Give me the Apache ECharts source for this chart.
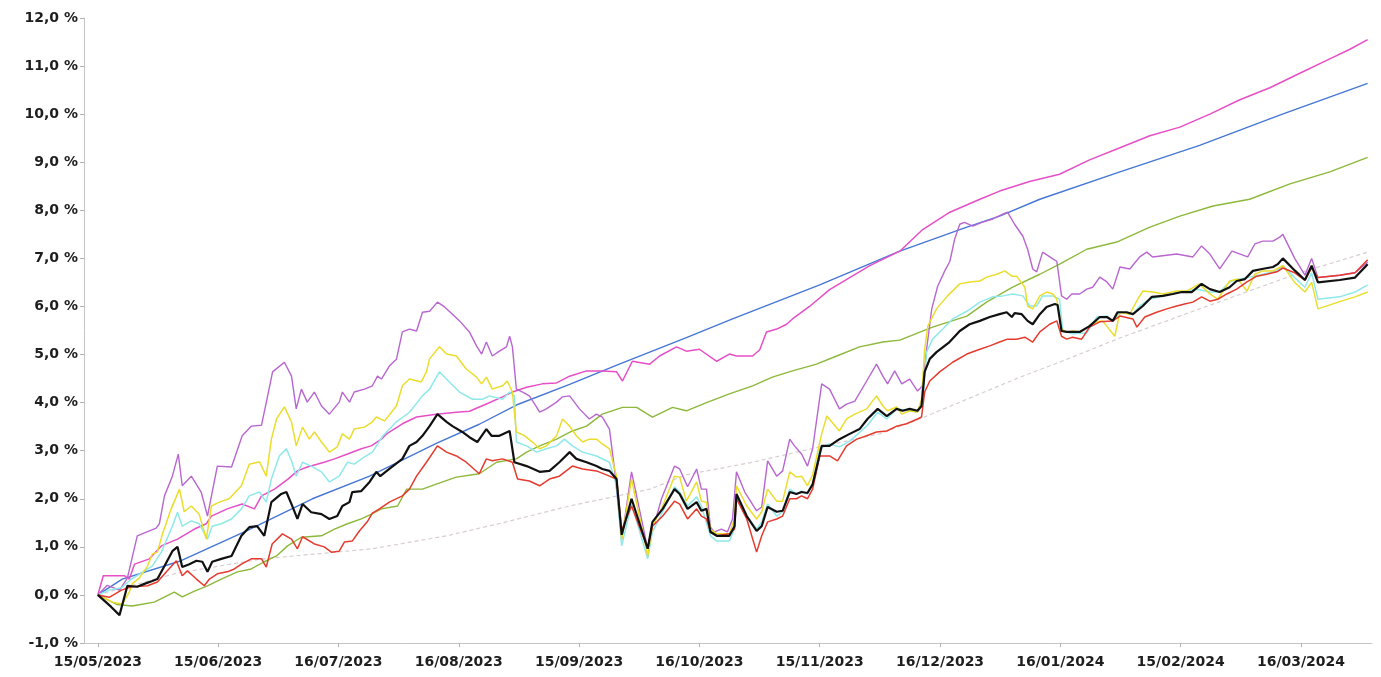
<!DOCTYPE html>
<html>
<head>
<meta charset="utf-8">
<script src="https://cdn.jsdelivr.net/npm/echarts@6/dist/echarts.min.js"></script>
<style>
  html, body { margin: 0; padding: 0; background: #ffffff; }
  #chart { width: 1381px; height: 677px; }
</style>
</head>
<body>
<div id="chart"></div>
<script>
// x values are days counted from 15/05/2023; y values are cumulative performance in %.
const xTickDays = [0, 30.5, 61, 91.5, 122, 152.5, 183, 213.5, 244, 274.5, 305];
const xTickLabels = ['15/05/2023', '15/06/2023', '16/07/2023', '16/08/2023', '15/09/2023',
  '16/10/2023', '15/11/2023', '16/12/2023', '16/01/2024', '15/02/2024', '16/03/2024'];

const gray = [[0,0],[19.9,0.45],[41.7,0.75],[69.6,0.96],[88.4,1.23],[102.6,1.5],[119.6,1.85],[139.9,2.2],[149.2,2.5],[166.0,2.76],[183.0,3.08],[198.2,3.35],[208.3,3.66],[220.3,4.07],[232.9,4.5],[245.6,4.9],[258.3,5.32],[274.3,5.8],[289.5,6.25],[304.7,6.7],[321.9,7.13]];

const green = [[0,0],[4.9,-0.2],[8.7,-0.23],[14.3,-0.15],[19.4,0.06],[21.4,-0.04],[24.5,0.08],[27.8,0.19],[31.3,0.33],[35.4,0.48],[38.9,0.54],[42.2,0.69],[45.3,0.81],[48.1,1.02],[51.6,1.2],[56.7,1.23],[60.0,1.37],[63.3,1.48],[66.8,1.58],[69.4,1.68],[71.9,1.79],[76.0,1.85],[78.3,2.2],[82.3,2.2],[87.4,2.35],[90.9,2.45],[96.7,2.52],[101.1,2.76],[106.1,2.83],[108.7,2.97],[112.0,3.1],[116.3,3.24],[120.3,3.41],[123.9,3.51],[127.9,3.76],[133.0,3.9],[136.6,3.9],[140.6,3.7],[145.7,3.9],[149.2,3.83],[154.3,4.0],[160.1,4.18],[166.0,4.35],[171.0,4.53],[176.1,4.66],[182.2,4.8],[187.3,4.97],[193.1,5.16],[199.0,5.26],[203.3,5.3],[211.6,5.57],[220.3,5.8],[225.3,6.09],[231.9,6.4],[238.8,6.67],[243.8,6.88],[250.7,7.19],[258.3,7.34],[266.7,7.65],[274.3,7.88],[282.7,8.09],[292.0,8.23],[302.2,8.55],[312.3,8.8],[321.9,9.1]];

const blue = [[0,0],[6.2,0.33],[20.7,0.7],[37.7,1.33],[54.4,2.0],[68.9,2.47],[85.8,3.15],[96.7,3.55],[106.1,3.95],[119.6,4.38],[132.2,4.8],[139.9,5.05],[149.2,5.35],[160.9,5.74],[183.0,6.45],[203.3,7.15],[220.3,7.65],[228.6,7.88],[238.8,8.23],[259.1,8.8],[279.3,9.35],[299.6,9.98],[321.9,10.64]];

const pink = [[0,0],[1.4,0.4],[6.7,0.4],[8.0,0.33],[9.3,0.64],[13.1,0.75],[16.1,1.02],[20.2,1.16],[24.5,1.37],[27.5,1.48],[28.8,1.64],[32.8,1.79],[36.6,1.89],[39.7,1.79],[41.5,2.06],[44.8,2.2],[48.2,2.41],[50.6,2.58],[53.1,2.66],[57.4,2.76],[60.0,2.83],[63.3,2.93],[66.8,3.04],[69.3,3.1],[71.9,3.24],[73.2,3.35],[77.2,3.56],[80.8,3.7],[85.8,3.76],[90.9,3.8],[94.2,3.82],[98.5,3.97],[102.6,4.12],[105.1,4.22],[108.7,4.32],[112.7,4.39],[116.3,4.41],[119.6,4.55],[123.9,4.66],[127.9,4.66],[131.5,4.64],[133.0,4.45],[135.5,4.86],[139.9,4.8],[142.4,4.97],[146.7,5.16],[149.2,5.07],[152.5,5.11],[156.9,4.86],[160.1,5.01],[161.9,4.97],[166.0,4.97],[167.8,5.1],[169.5,5.47],[172.1,5.53],[174.6,5.63],[176.1,5.74],[180.4,6.0],[185.5,6.35],[190.6,6.6],[195.7,6.85],[203.3,7.15],[209.1,7.6],[216.0,7.96],[223.6,8.23],[228.6,8.4],[236.2,8.6],[243.8,8.75],[251.4,9.05],[259.1,9.3],[266.7,9.55],[274.3,9.73],[281.9,10.0],[289.5,10.3],[297.1,10.55],[304.7,10.85],[312.3,11.15],[317.4,11.35],[321.9,11.55]];

const purple = [[0,0],[2.4,0.2],[5.5,0.1],[7.5,0.35],[10.0,1.23],[14.8,1.39],[15.6,1.48],[16.9,2.06],[18.9,2.47],[20.4,2.93],[21.4,2.27],[23.7,2.47],[26.2,2.14],[27.8,1.64],[30.3,2.68],[33.9,2.66],[36.6,3.31],[38.9,3.51],[41.5,3.53],[43.0,4.12],[44.3,4.64],[47.3,4.84],[49.1,4.55],[50.3,3.87],[51.6,4.28],[53.1,4.01],[54.9,4.22],[56.7,3.93],[58.7,3.76],[61.2,4.01],[62.0,4.22],[63.8,4.01],[65.0,4.22],[67.6,4.28],[69.6,4.35],[70.9,4.55],[71.9,4.49],[73.9,4.76],[75.7,4.9],[77.2,5.47],[79.0,5.53],[80.8,5.49],[82.3,5.88],[84.1,5.9],[86.1,6.09],[87.9,5.99],[89.9,5.84],[91.7,5.7],[94.2,5.47],[96.0,5.18],[97.3,5.01],[98.5,5.26],[100.0,4.97],[101.8,5.07],[103.6,5.16],[104.4,5.38],[105.1,5.16],[106.1,4.28],[107.7,4.22],[109.4,4.14],[111.2,3.91],[112.0,3.8],[113.7,3.87],[116.3,4.01],[117.8,4.12],[119.6,4.14],[120.8,4.01],[122.1,3.87],[124.6,3.66],[126.4,3.76],[127.9,3.7],[129.7,3.45],[131.0,2.6],[132.8,1.15],[135.3,2.56],[139.4,0.96],[140.4,1.43],[141.1,1.48],[142.9,2.0],[146.2,2.68],[147.5,2.62],[149.5,2.25],[151.8,2.62],[153.0,2.2],[154.3,2.2],[155.3,1.41],[156.3,1.31],[158.1,1.37],[159.6,1.31],[160.9,1.58],[161.9,2.56],[164.0,2.14],[167.0,1.75],[168.3,1.83],[169.8,2.79],[172.1,2.47],[173.6,2.58],[175.4,3.24],[176.6,3.1],[178.4,2.93],[179.9,2.68],[181.2,3.04],[183.5,4.39],[185.5,4.28],[188.0,3.87],[189.8,3.97],[191.9,4.03],[194.9,4.45],[197.4,4.8],[199.0,4.55],[200.2,4.39],[202.0,4.66],[203.8,4.39],[205.8,4.49],[207.8,4.24],[209.1,4.35],[210.1,5.11],[211.4,5.95],[212.9,6.42],[214.7,6.74],[216.0,6.94],[217.2,7.4],[218.5,7.71],[219.7,7.75],[221.8,7.67],[224.1,7.75],[226.9,7.82],[229.4,7.92],[230.6,7.96],[232.4,7.71],[234.5,7.46],[235.7,7.19],[237.0,6.78],[238.0,6.72],[239.5,7.13],[242.1,6.99],[243.1,6.94],[244.3,6.22],[245.6,6.15],[246.9,6.26],[248.9,6.26],[250.7,6.36],[252.2,6.4],[254.0,6.61],[255.8,6.51],[257.3,6.36],[259.1,6.82],[261.6,6.78],[264.1,7.03],[265.9,7.13],[267.4,7.03],[273.5,7.09],[277.6,7.03],[279.8,7.26],[281.9,7.09],[284.4,6.78],[287.5,7.15],[291.5,7.03],[293.3,7.3],[295.3,7.36],[297.9,7.36],[299.6,7.44],[300.4,7.5],[303.4,7.0],[306.0,6.65],[307.7,7.0],[309.3,6.6],[314.8,6.65],[318.7,6.7],[321.9,6.92]];

const cyan = [[0,0],[2.9,0.1],[6.0,0.15],[8.5,0.33],[13.8,0.6],[16.1,0.89],[18.9,1.43],[20.2,1.72],[21.4,1.43],[23.7,1.54],[25.7,1.48],[27.8,1.16],[29.0,1.43],[31.3,1.48],[33.9,1.58],[36.4,1.79],[38.4,2.06],[41.0,2.14],[42.7,1.93],[44.0,2.41],[46.0,2.89],[47.8,3.04],[49.1,2.79],[50.3,2.47],[51.9,2.76],[54.1,2.68],[56.7,2.56],[58.7,2.35],[61.2,2.47],[63.3,2.76],[65.0,2.72],[67.6,2.87],[69.6,2.97],[72.2,3.3],[75.7,3.6],[79.0,3.8],[82.3,4.14],[84.1,4.28],[86.6,4.64],[89.1,4.43],[91.7,4.22],[95.0,4.07],[97.5,4.07],[99.3,4.14],[102.6,4.07],[104.4,4.22],[105.6,4.14],[106.1,3.18],[108.7,3.1],[111.2,2.97],[113.7,3.04],[116.3,3.1],[118.3,3.24],[120.3,3.1],[122.9,2.97],[126.4,2.89],[129.7,2.76],[131.5,2.27],[132.8,1.02],[135.3,1.89],[139.4,0.75],[140.6,1.31],[143.2,1.73],[146.2,2.25],[147.5,2.14],[149.5,1.85],[151.8,2.04],[153.0,1.85],[155.3,1.23],[156.9,1.12],[160.1,1.12],[161.4,1.37],[161.9,2.06],[164.5,1.64],[167.0,1.37],[168.3,1.52],[169.8,1.89],[172.1,1.64],[173.6,1.73],[175.4,2.2],[177.1,2.1],[178.4,2.16],[179.9,2.1],[181.2,2.3],[183.0,3.04],[185.5,3.14],[188.0,3.08],[190.6,3.2],[194.9,3.51],[197.7,3.8],[200.0,3.66],[202.5,3.87],[205.8,3.83],[207.8,3.8],[209.1,4.0],[210.1,5.05],[211.6,5.32],[214.2,5.53],[216.7,5.74],[220.3,5.9],[223.6,6.09],[226.8,6.2],[229.4,6.22],[231.9,6.26],[234.5,6.22],[236.2,6.01],[238.0,6.01],[239.5,6.22],[242.1,6.22],[243.8,6.15],[244.6,5.49],[247.1,5.43],[250.7,5.45],[253.2,5.78],[255.8,5.8],[257.3,5.7],[259.1,5.88],[262.4,5.84],[264.1,6.01],[266.7,6.15],[270.0,6.22],[274.3,6.3],[278.6,6.36],[281.9,6.3],[284.4,6.3],[286.9,6.51],[289.5,6.57],[292.0,6.61],[295.3,6.67],[298.9,6.74],[300.4,6.85],[303.4,6.6],[306.0,6.4],[307.7,6.7],[309.3,6.15],[314.8,6.2],[318.7,6.3],[321.9,6.45]];

const yellow = [[0,0],[3.7,-0.15],[6.2,-0.19],[8.0,0.06],[8.7,0.23],[10.5,0.35],[12.6,0.6],[13.8,0.85],[15.1,0.89],[16.4,1.27],[18.6,1.79],[20.7,2.2],[21.9,1.73],[23.7,1.85],[25.7,1.68],[27.5,1.16],[28.8,1.85],[30.8,1.93],[33.3,2.0],[36.4,2.27],[38.4,2.72],[41.0,2.77],[42.7,2.47],[44.0,3.24],[45.3,3.66],[47.3,3.91],[49.1,3.6],[50.3,3.1],[51.9,3.49],[53.6,3.24],[54.9,3.39],[56.7,3.18],[58.7,2.97],[60.7,3.08],[62.0,3.35],[63.8,3.24],[65.0,3.45],[67.6,3.49],[69.6,3.6],[70.6,3.7],[72.7,3.62],[75.7,3.93],[77.2,4.35],[79.0,4.49],[82.0,4.43],[83.3,4.64],[84.1,4.91],[86.6,5.16],[88.4,5.01],[90.9,4.97],[93.4,4.7],[96.0,4.53],[97.3,4.39],[98.5,4.53],[100.0,4.28],[102.6,4.35],[103.8,4.45],[105.1,4.22],[106.1,3.39],[108.2,3.31],[110.2,3.18],[112.0,3.04],[113.7,3.1],[116.3,3.31],[117.8,3.66],[119.6,3.51],[121.3,3.31],[122.9,3.18],[124.6,3.24],[126.4,3.24],[127.9,3.14],[129.7,3.04],[131.5,2.47],[132.8,1.16],[135.3,2.41],[139.4,0.81],[140.6,1.43],[143.2,1.85],[146.2,2.47],[147.5,2.45],[149.2,1.95],[151.8,2.35],[153.0,1.95],[154.3,1.93],[155.3,1.37],[156.9,1.27],[160.1,1.27],[161.4,1.58],[161.9,2.27],[164.5,1.85],[167.0,1.58],[168.3,1.73],[169.8,2.2],[172.1,1.95],[173.6,1.95],[175.4,2.56],[177.1,2.45],[178.4,2.47],[179.9,2.27],[181.2,2.5],[183.5,3.35],[184.8,3.72],[188.0,3.41],[189.8,3.66],[191.9,3.76],[194.9,3.87],[197.4,4.14],[199.0,3.93],[200.2,3.83],[202.5,3.91],[203.8,3.76],[205.8,3.83],[207.8,3.8],[208.8,4.07],[209.6,5.11],[210.4,5.59],[212.6,5.95],[215.4,6.22],[218.5,6.47],[221.0,6.51],[223.6,6.53],[225.3,6.61],[227.9,6.67],[229.9,6.74],[231.7,6.63],[232.9,6.63],[235.0,6.4],[235.7,6.01],[237.0,5.95],[238.8,6.22],[240.5,6.3],[242.1,6.26],[243.1,6.15],[244.3,5.53],[245.6,5.47],[247.1,5.49],[248.9,5.47],[251.4,5.59],[253.2,5.68],[254.7,5.7],[257.8,5.38],[259.1,5.88],[261.6,5.84],[263.6,6.15],[264.9,6.32],[267.4,6.3],[270.0,6.26],[273.5,6.32],[276.0,6.32],[279.3,6.47],[281.9,6.26],[283.9,6.15],[286.9,6.53],[289.0,6.57],[291.3,6.32],[293.3,6.67],[295.3,6.74],[297.9,6.74],[300.4,6.85],[303.4,6.5],[306.0,6.3],[307.7,6.5],[309.3,5.95],[314.8,6.1],[318.7,6.2],[321.9,6.3]];

const red = [[0,0],[2.9,-0.05],[6.0,0.1],[8.5,0.17],[12.6,0.19],[15.1,0.27],[17.4,0.48],[19.9,0.71],[21.4,0.4],[22.7,0.5],[25.0,0.33],[27.0,0.19],[28.3,0.33],[30.3,0.44],[32.8,0.48],[34.6,0.54],[36.4,0.64],[38.9,0.75],[41.5,0.75],[42.7,0.58],[44.2,1.06],[46.8,1.27],[49.1,1.16],[50.6,0.96],[51.9,1.21],[54.9,1.06],[57.4,1.0],[59.2,0.89],[61.2,0.91],[62.5,1.1],[64.5,1.12],[66.3,1.33],[68.3,1.52],[69.6,1.7],[71.4,1.79],[73.9,1.93],[77.2,2.06],[79.0,2.2],[80.8,2.47],[83.3,2.76],[86.1,3.1],[88.4,2.97],[90.9,2.89],[93.4,2.76],[96.7,2.52],[98.5,2.83],[100.0,2.79],[102.6,2.83],[105.1,2.76],[106.4,2.41],[109.4,2.37],[112.0,2.27],[114.5,2.41],[117.0,2.47],[120.3,2.68],[122.9,2.62],[126.4,2.58],[129.7,2.47],[131.5,2.41],[132.8,1.35],[135.3,1.85],[139.4,0.96],[140.6,1.43],[143.2,1.64],[146.2,1.95],[147.5,1.89],[149.5,1.58],[151.8,1.79],[153.0,1.64],[154.3,1.58],[155.3,1.33],[156.9,1.23],[160.1,1.27],[161.4,1.37],[161.9,2.0],[164.5,1.58],[167.0,0.89],[168.3,1.23],[169.8,1.52],[172.1,1.58],[173.6,1.64],[175.4,2.0],[177.1,2.0],[178.4,2.06],[179.9,2.0],[181.2,2.2],[183.0,2.89],[185.5,2.89],[187.5,2.79],[189.8,3.1],[192.4,3.24],[194.9,3.31],[197.4,3.39],[200.0,3.41],[202.5,3.51],[205.0,3.56],[207.8,3.66],[208.8,3.7],[209.6,4.22],[210.9,4.45],[213.4,4.64],[216.7,4.84],[220.3,5.01],[223.6,5.11],[226.1,5.18],[228.6,5.26],[230.6,5.32],[232.9,5.32],[235.0,5.36],[237.0,5.26],[238.8,5.47],[241.3,5.63],[243.1,5.7],[244.3,5.38],[245.6,5.32],[247.1,5.36],[249.4,5.32],[251.4,5.57],[254.0,5.68],[257.3,5.7],[259.1,5.8],[262.4,5.74],[263.4,5.57],[265.4,5.78],[268.4,5.88],[271.0,5.95],[273.5,6.01],[275.5,6.05],[277.6,6.09],[279.8,6.2],[281.9,6.11],[283.9,6.15],[286.2,6.26],[288.7,6.36],[291.3,6.51],[293.8,6.63],[296.3,6.67],[298.9,6.72],[300.4,6.8],[303.4,6.7],[306.0,6.55],[307.7,6.8],[309.3,6.6],[314.8,6.65],[318.7,6.7],[321.9,6.97]];

const black = [[0,0],[3.4,-0.25],[5.5,-0.42],[7.5,0.19],[10.0,0.17],[11.8,0.23],[13.8,0.29],[15.1,0.33],[16.9,0.6],[18.9,0.91],[20.2,1.0],[21.4,0.58],[23.2,0.64],[25.0,0.71],[26.5,0.69],[27.8,0.48],[29.0,0.69],[31.3,0.75],[33.9,0.81],[36.4,1.23],[38.4,1.41],[40.4,1.43],[42.2,1.23],[44.0,1.93],[46.5,2.1],[47.8,2.14],[49.1,1.89],[50.6,1.58],[51.9,1.89],[54.1,1.72],[56.7,1.68],[58.7,1.58],[60.7,1.64],[62.0,1.85],[63.8,1.93],[64.5,2.14],[66.8,2.16],[68.9,2.35],[70.6,2.56],[71.6,2.47],[73.9,2.62],[77.2,2.83],[79.0,3.1],[80.8,3.18],[82.3,3.31],[84.1,3.51],[86.1,3.76],[88.4,3.6],[89.9,3.51],[92.4,3.39],[94.2,3.28],[96.2,3.18],[98.5,3.45],[99.8,3.31],[101.8,3.31],[104.4,3.41],[105.6,2.76],[108.7,2.68],[112.0,2.56],[114.5,2.58],[117.0,2.76],[119.6,2.97],[121.3,2.83],[123.9,2.76],[126.4,2.68],[127.9,2.62],[129.7,2.58],[131.5,2.41],[132.8,1.25],[135.3,2.0],[139.4,0.96],[140.6,1.52],[143.2,1.79],[146.2,2.2],[147.5,2.1],[149.5,1.79],[151.8,1.93],[153.0,1.75],[154.3,1.79],[155.3,1.31],[156.9,1.23],[160.1,1.23],[161.4,1.43],[161.9,2.1],[164.5,1.64],[167.0,1.33],[168.3,1.43],[169.8,1.83],[172.1,1.73],[173.6,1.75],[175.4,2.14],[177.1,2.1],[178.4,2.14],[179.9,2.12],[181.2,2.3],[183.5,3.1],[185.5,3.1],[188.0,3.24],[190.6,3.35],[193.1,3.45],[195.1,3.66],[197.7,3.87],[200.0,3.72],[202.5,3.87],[204.0,3.83],[205.8,3.87],[207.8,3.83],[208.8,3.93],[209.6,4.64],[210.9,4.91],[212.6,5.05],[215.9,5.26],[218.5,5.49],[221.0,5.63],[223.6,5.7],[226.1,5.78],[228.6,5.84],[230.4,5.88],[231.7,5.78],[232.4,5.86],[234.2,5.84],[235.7,5.7],[237.0,5.63],[238.8,5.84],[240.5,5.99],[242.6,6.05],[243.3,6.03],[244.3,5.49],[245.6,5.47],[248.9,5.47],[251.4,5.59],[254.0,5.78],[255.8,5.78],[257.3,5.7],[258.5,5.88],[260.8,5.88],[262.4,5.84],[264.9,6.01],[267.2,6.2],[270.0,6.22],[272.5,6.26],[274.8,6.3],[277.3,6.3],[279.8,6.47],[281.9,6.36],[284.4,6.3],[286.9,6.4],[288.7,6.53],[290.8,6.57],[292.8,6.74],[295.1,6.78],[297.9,6.82],[299.1,6.88],[300.4,7.0],[303.4,6.75],[306.0,6.55],[307.7,6.85],[309.3,6.5],[314.8,6.55],[318.7,6.6],[321.9,6.88]];

// Drawing order: light reference lines first, the thick black line on top.
const seriesDefs = [
  { name: 'gray',   data: gray,   color: '#d7cdd2', width: 1.2, type: [4, 3] },
  { name: 'green',  data: green,  color: '#8db83a', width: 1.4 },
  { name: 'blue',   data: blue,   color: '#4677d4', width: 1.4 },
  { name: 'pink',   data: pink,   color: '#e64fc6', width: 1.5 },
  { name: 'purple', data: purple, color: '#b866d0', width: 1.4 },
  { name: 'cyan',   data: cyan,   color: '#8fe8ea', width: 1.5 },
  { name: 'yellow', data: yellow, color: '#ebdd2c', width: 1.5 },
  { name: 'red',    data: red,    color: '#e53a2e', width: 1.5 },
  { name: 'black',  data: black,  color: '#111111', width: 2.2 }
];

const axisFont = { fontFamily: 'DejaVu Sans', fontWeight: 'bold', fontSize: 14, color: '#1e1e1e' };

const chart = echarts.init(document.getElementById('chart'), null, { renderer: 'canvas' });
chart.setOption({
  animation: false,
  backgroundColor: '#ffffff',
  grid: { left: 84, right: 9, top: 18, bottom: 34, containLabel: false },
  xAxis: {
    type: 'value',
    min: -3.5,
    max: 323,
    splitLine: { show: false },
    axisLine: { show: true, onZero: false, lineStyle: { color: '#c4c4c4', width: 1 } },
    axisTick: { show: true, length: 4, lineStyle: { color: '#b0b0b0' }, customValues: xTickDays },
    axisLabel: Object.assign({}, axisFont, {
      margin: 12,
      customValues: xTickDays,
      formatter: function (v) {
        const i = Math.round(v / 30.5);
        return xTickLabels[i] || '';
      }
    })
  },
  yAxis: {
    type: 'value',
    min: -1,
    max: 12,
    interval: 1,
    splitLine: { show: false },
    axisLine: { show: true, onZero: false, lineStyle: { color: '#c4c4c4', width: 1 } },
    axisTick: { show: true, length: 4, lineStyle: { color: '#b0b0b0' } },
    axisLabel: Object.assign({}, axisFont, {
      margin: 6,
      formatter: function (v) { return v.toFixed(1).replace('.', ',') + ' %'; }
    })
  },
  series: seriesDefs.map(function (s) {
    return {
      name: s.name,
      type: 'line',
      data: s.data,
      showSymbol: false,
      symbol: 'none',
      smooth: false,
      lineStyle: { color: s.color, width: s.width, type: s.type || 'solid' },
      emphasis: { disabled: true },
      z: 2
    };
  })
});
</script>
</body>
</html>
